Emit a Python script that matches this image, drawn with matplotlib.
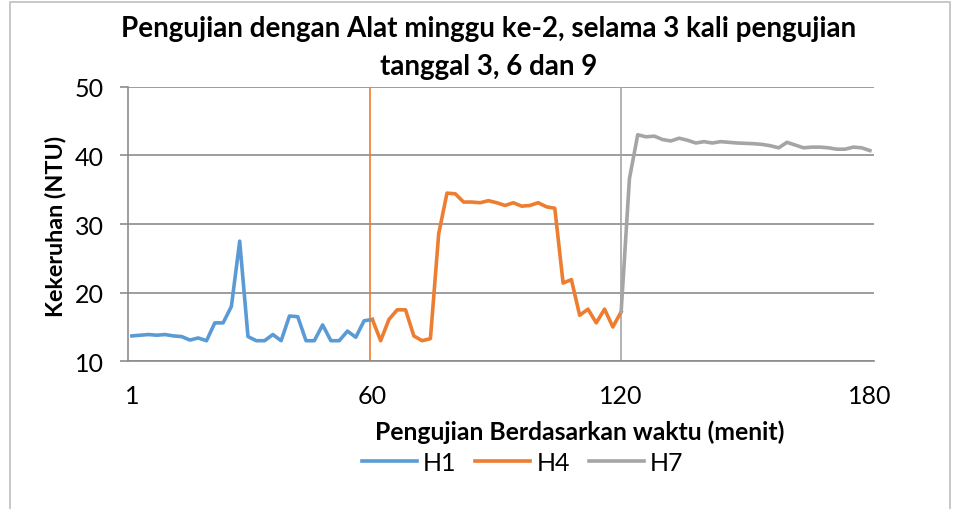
import matplotlib
matplotlib.use("Agg")
import matplotlib.pyplot as plt
from matplotlib.patches import Rectangle

plt.rcParams["font.family"] = ["Lato", "DejaVu Sans"]

# category labels (90 categories, only a few labelled)
tick_pos = [0, 29, 59, 89]
tick_labels = ["1", "60", "120", "180"]

# H1: categories 0..29
h1 = [13.7, 13.8, 13.9, 13.8, 13.9, 13.7, 13.6, 13.1, 13.4, 13.0,
      15.6, 15.6, 18.0, 27.5, 13.6, 13.0, 13.0, 13.9, 13.0, 16.6,
      16.5, 13.0, 13.0, 15.3, 13.0, 13.0, 14.4, 13.5, 15.9, 16.1]

# H4: categories 29..59
h4 = [16.1, 13.0, 16.1, 17.5, 17.5, 13.7, 13.0, 13.3, 28.6, 34.5,
      34.4, 33.2, 33.2, 33.1, 33.4, 33.1, 32.7, 33.1, 32.6, 32.7,
      33.1, 32.5, 32.3, 21.4, 21.9, 16.7, 17.6, 15.6, 17.6, 15.0,
      17.2]

# H7: categories 59..89
h7 = [17.2, 36.6, 43.0, 42.7, 42.8, 42.3, 42.1, 42.5, 42.2, 41.8,
      42.0, 41.8, 42.0, 41.9, 41.8, 41.75, 41.7, 41.6, 41.4, 41.1,
      41.9, 41.5, 41.1, 41.2, 41.2, 41.1, 40.9, 40.9, 41.2, 41.1,
      40.7]

x1 = list(range(0, 30))
x4 = list(range(29, 60))
x7 = list(range(59, 90))

blue = "#5B9BD5"
orange = "#ED7D31"
grey = "#A5A5A5"
axis_grey = "#8C8C8C"

fig = plt.figure(figsize=(9.54, 5.10), dpi=100)
ax = fig.add_axes([0.1339, 0.2896, 0.7823, 0.5384])

ax.plot(x1, h1, color=blue, lw=2.6, label="H1", solid_joinstyle="round")
ax.plot(x4, h4, color=orange, lw=2.6, label="H4", solid_joinstyle="round")
ax.plot(x7, h7, color=grey, lw=2.6, label="H7", solid_joinstyle="round")

ax.axvline(28.75, color=orange, lw=1.2, zorder=1)
ax.axvline(59, color=grey, lw=1.2, zorder=1)

ax.set_xlim(-0.5, 89.5)
ax.set_ylim(10, 50)
ax.set_yticks([10, 20, 30, 40, 50])
ax.set_xticks(tick_pos)
ax.set_xticklabels(tick_labels)
ax.grid(axis="y", color=axis_grey, lw=1.2)
ax.set_axisbelow(True)

for s in ["top", "right"]:
    ax.spines[s].set_visible(False)
for s in ["left", "bottom"]:
    ax.spines[s].set_color(axis_grey)
    ax.spines[s].set_linewidth(1.2)

ax.tick_params(axis="y", length=6, color=axis_grey, width=1.2, labelsize=18, pad=11)
ax.tick_params(axis="x", length=0, labelsize=18, pad=16)

ax.set_ylabel("Kekeruhan (NTU)", fontsize=16.8, fontweight="bold", ha="center", va="center")
ax.yaxis.set_label_coords(-0.0974, 0.4945)
ax.set_xlabel("Pengujian Berdasarkan waktu (menit)", fontsize=17.8, fontweight="bold", va="center")
ax.xaxis.set_label_coords(0.605, -0.254)

fig.suptitle("Pengujian dengan Alat minggu ke-2, selama 3 kali pengujian\ntanggal 3, 6 dan 9",
             x=0.5126, y=0.968, va="top", fontsize=20, fontweight="bold", linespacing=1.55)

fig.legend(loc="center", bbox_to_anchor=(0.548, 0.092), ncol=3, frameon=False,
           fontsize=18, handlelength=2.2, columnspacing=0.75, handletextpad=0.25)

fig.patches.append(Rectangle((0.011, -0.01), 0.985, 1.004, transform=fig.transFigure,
                             fill=False, edgecolor="#BFBFBF", lw=1.2))

fig.savefig("out.png", dpi=100)
